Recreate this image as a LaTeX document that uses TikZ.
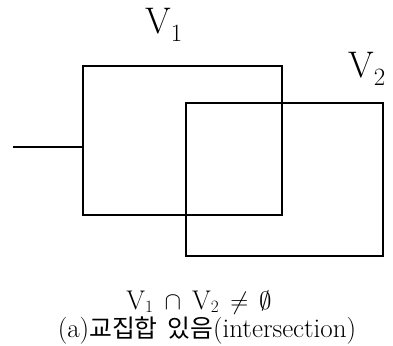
\documentclass[tikz,border=0pt]{standalone}
\usepackage{fontspec}
\newfontfamily\krfont{Noto Sans CJK KR}[Scale=0.92]
\usetikzlibrary{positioning, calc}

\begin{document}
\begin{tikzpicture}[
    x=1pt, y=-1pt,
    set/.style={rectangle, draw, line width=1.3pt, inner sep=0pt},
    setname/.style={font=\fontsize{37}{40}\selectfont, inner sep=0pt},
    caption/.style={font=\fontsize{27}{31}\selectfont, inner sep=0pt, anchor=base},
    line/.style={line width=1.3pt},
]
\useasboundingbox (0,0) rectangle (393,345);

%% NODES
    % sets
    \node[set, minimum width=199pt, minimum height=149pt] (v1) at (182.5,140.5) {};
    \node[set, minimum width=197pt, minimum height=153pt] (v2) at (284.5,179.5) {};

    % set names
    \node[setname] (v1_name) at (164,25) {V$_1$};
    \node[setname] (v2_name) at (367,69) {V$_2$};

    % lead
    \coordinate (lead) at (13,147);

    % caption
    \node[caption] (formula) at (199,309) {V$_1$\hspace{11pt}$\cap$\hspace{11pt}V$_2$\hspace{11pt}$\neq$\hspace{11pt}$\emptyset$};
    \node[caption] (label) at (207,337) {(a){\krfont 교집합\hspace{4pt} 있음}(intersection)};

%% CONNECTIONS
    \draw[line] (lead) -- (lead -| v1.west);

\end{tikzpicture}
\end{document}
